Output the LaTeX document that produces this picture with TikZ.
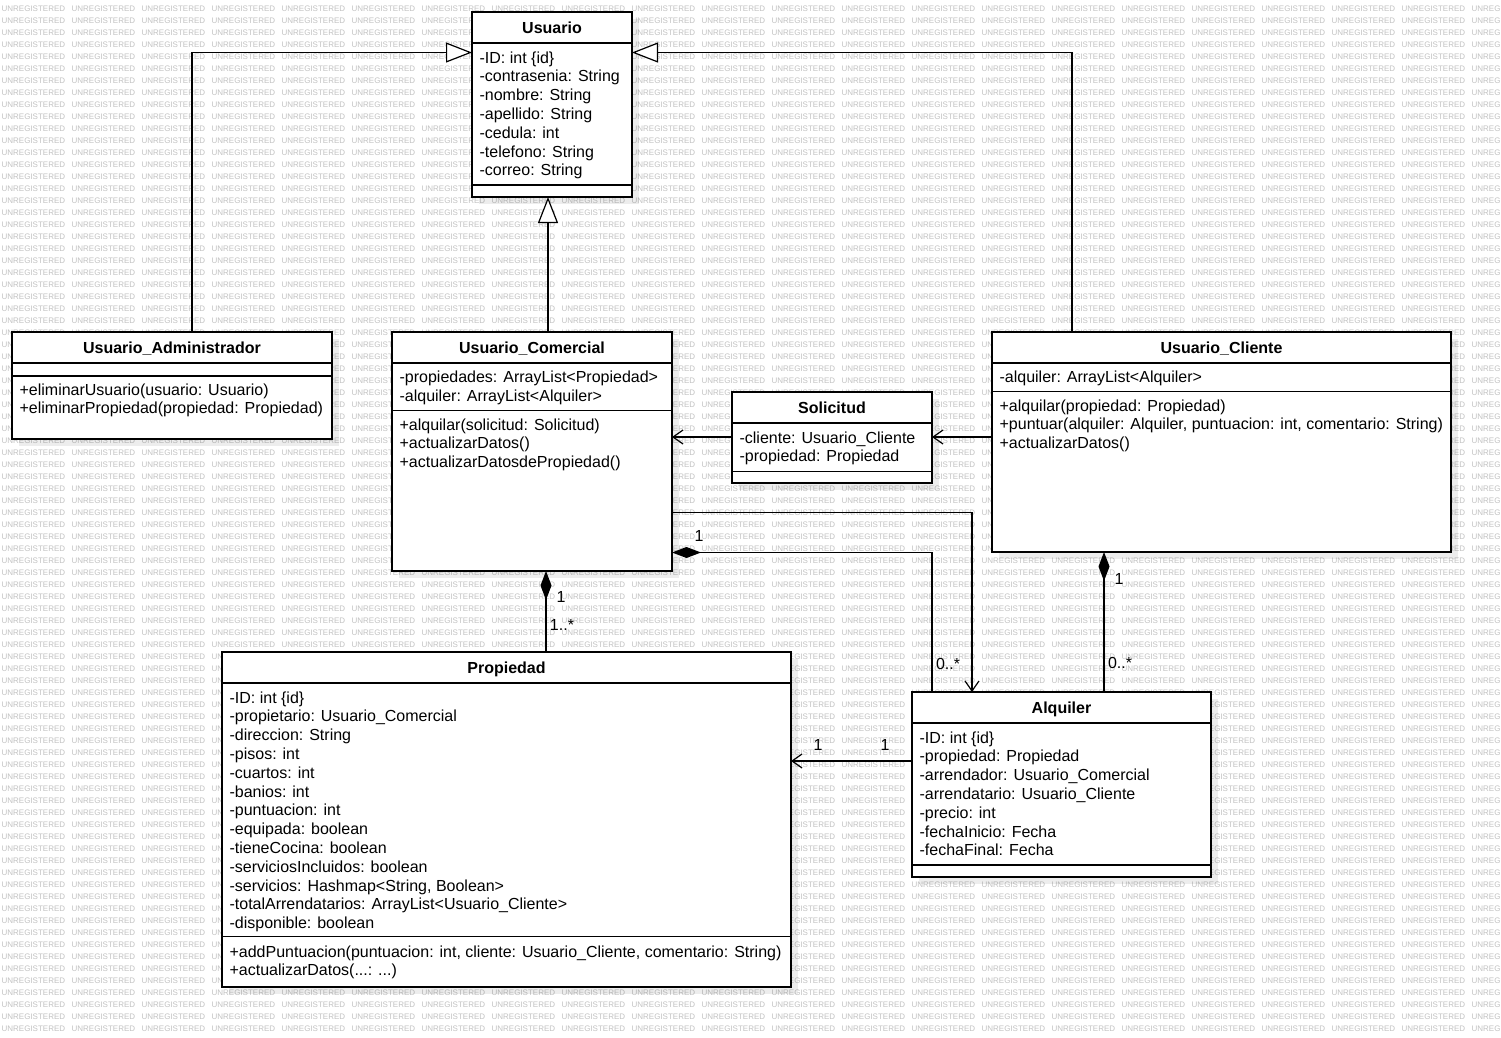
\documentclass[tikz,border=0pt]{standalone}
\usepackage{fontspec}
\setmainfont{Liberation Sans}
\usetikzlibrary{arrows.meta,shadows}

\begin{document}
\begin{tikzpicture}[x=1pt, y=-1pt, line width=1.2pt,
    classbox/.style={draw, fill=white, anchor=north west, inner sep=0pt, outer sep=0pt,
        drop shadow={shadow xshift=7pt, shadow yshift=-7pt, fill=black, opacity=.07}},
    classname/.style={anchor=base, inner sep=0pt, font=\fontsize{16}{18.8}\selectfont\bfseries},
    member/.style={anchor=base west, inner sep=0pt, font=\fontsize{16}{18.8}\selectfont},
    mult/.style={inner sep=0pt, font=\fontsize{16}{18.8}\selectfont},
    watermark/.style={anchor=base west, inner sep=0pt, text=black!24, font=\fontsize{8}{8}\selectfont},
    inherit/.style={-{Triangle[length=26pt,width=20pt,fill=white]}},
    assoc/.style={-{Straight Barb[length=10pt,width=14pt]}},
    compose/.style={-{Diamond[length=29pt,width=11pt]}}]
    \fill[white] (0,0) rectangle (1501,1037);
    \useasboundingbox (0,0) rectangle (1501,1037);
    \begin{scope}
        \clip (0,0) rectangle (1501,1037);
        \foreach \row in {0,...,85}
            \foreach \col in {0,...,21}
                \node[watermark] (wm-\row-\col) at (70*\col+1, 11.6+12*\row) {UNREGISTERED};
    \end{scope}

    \node[classbox, minimum width=160pt, minimum height=185pt] (usuario) at (472,12) {};
    \node[classname] (usuario-name) at (552,33.5) {Usuario};
    \draw (usuario.west |- 0,43) -- (usuario.east |- 0,43);
    \draw[line width=2pt] (usuario.west |- 0,184.5) -- (usuario.east |- 0,184.5);
    \foreach \t [count=\i from 0] in {-ID: int \{id\}, -contrasenia: String, -nombre: String,
            -apellido: String, -cedula: int, -telefono: String, -correo: String}
        \node[member] (usuario-a\i) at (479, 63+18.8*\i) {\t};

    \node[classbox, minimum width=320pt, minimum height=107pt] (admin) at (12,332) {};
    \node[classname] (admin-name) at (172,353.5) {Usuario\_Administrador};
    \draw (admin.west |- 0,363) -- (admin.east |- 0,363);
    \draw (admin.west |- 0,376) -- (admin.east |- 0,376);
    \foreach \t [count=\i from 0] in {+eliminarUsuario(usuario: Usuario), +eliminarPropiedad(propiedad: Propiedad)}
        \node[member] (admin-o\i) at (19, 395+18.8*\i) {\t};

    \node[classbox, minimum width=280pt, minimum height=239pt] (comercial) at (392,332) {};
    \node[classname] (comercial-name) at (532,353.5) {Usuario\_Comercial};
    \draw (comercial.west |- 0,363) -- (comercial.east |- 0,363);
    \draw (comercial.west |- 0,410.5) -- (comercial.east |- 0,410.5);
    \foreach \t [count=\i from 0] in {-propiedades: ArrayList<Propiedad>, -alquiler: ArrayList<Alquiler>}
        \node[member] (comercial-a\i) at (399, 382.5+18.8*\i) {\t};
    \foreach \t [count=\i from 0] in {+alquilar(solicitud: Solicitud), +actualizarDatos(), +actualizarDatosdePropiedad()}
        \node[member] (comercial-o\i) at (399, 430+18.8*\i) {\t};

    \node[classbox, minimum width=459pt, minimum height=220pt] (cliente) at (992,332) {};
    \node[classname] (cliente-name) at (1221.5,353.5) {Usuario\_Cliente};
    \draw (cliente.west |- 0,363) -- (cliente.east |- 0,363);
    \draw (cliente.west |- 0,391.5) -- (cliente.east |- 0,391.5);
    \node[member] (cliente-a0) at (999,382.5) {-alquiler: ArrayList<Alquiler>};
    \foreach \t [count=\i from 0] in {+alquilar(propiedad: Propiedad),
            {+puntuar(alquiler: Alquiler, puntuacion: int, comentario: String)}, +actualizarDatos()}
        \node[member] (cliente-o\i) at (999, 411+18.8*\i) {\t};

    \node[classbox, minimum width=200pt, minimum height=91pt] (solicitud) at (732,392) {};
    \node[classname] (solicitud-name) at (832,413.5) {Solicitud};
    \draw (solicitud.west |- 0,423) -- (solicitud.east |- 0,423);
    \draw (solicitud.west |- 0,471.5) -- (solicitud.east |- 0,471.5);
    \foreach \t [count=\i from 0] in {-cliente: Usuario\_Cliente, -propiedad: Propiedad}
        \node[member] (solicitud-a\i) at (739, 443+18.8*\i) {\t};

    \node[classbox, minimum width=569pt, minimum height=335pt] (propiedad) at (222,652) {};
    \node[classname] (propiedad-name) at (506.5,673.5) {Propiedad};
    \draw (propiedad.west |- 0,683) -- (propiedad.east |- 0,683);
    \draw (propiedad.west |- 0,936.5) -- (propiedad.east |- 0,936.5);
    \foreach \t [count=\i from 0] in {-ID: int \{id\}, -propietario: Usuario\_Comercial, -direccion: String,
            -pisos: int, -cuartos: int, -banios: int, -puntuacion: int, -equipada: boolean,
            -tieneCocina: boolean, -serviciosIncluidos: boolean, {-servicios: Hashmap<String, Boolean>},
            -totalArrendatarios: ArrayList<Usuario\_Cliente>, -disponible: boolean}
        \node[member] (propiedad-a\i) at (229, 703+18.8*\i) {\t};
    \node[member] (propiedad-o0) at (229,957) {+addPuntuacion(puntuacion: int, cliente: Usuario\_Cliente, comentario: String)};
    \node[member] (propiedad-o1) at (229,975.8) {+actualizarDatos(...: ...)};

    \node[classbox, minimum width=299pt, minimum height=185pt] (alquiler) at (912,692) {};
    \node[classname] (alquiler-name) at (1061.5,713.5) {Alquiler};
    \draw (alquiler.west |- 0,723) -- (alquiler.east |- 0,723);
    \draw[line width=2pt] (alquiler.west |- 0,864.5) -- (alquiler.east |- 0,864.5);
    \foreach \t [count=\i from 0] in {-ID: int \{id\}, -propiedad: Propiedad, -arrendador: Usuario\_Comercial,
            -arrendatario: Usuario\_Cliente, -precio: int, -fechaInicio: Fecha, -fechaFinal: Fecha}
        \node[member] (alquiler-a\i) at (919, 743+18.8*\i) {\t};

    \draw[inherit] (admin.north -| 192,0) |- (usuario.west |- 0,52.5);
    \draw[inherit] (cliente.north -| 1072,0) |- (usuario.east |- 0,52.5);
    \draw[inherit] (comercial.north -| 548,0) -- (usuario.south -| 548,0);
    \draw[assoc] (solicitud.west |- 0,437) -- (comercial.east |- 0,437);
    \draw[assoc] (cliente.west |- 0,437) -- (solicitud.east |- 0,437);
    \draw[assoc] (comercial.east |- 0,512.5) -| (alquiler.north -| 972,0);
    \draw[compose] (alquiler.north -| 932,0) |- (comercial.east |- 0,552.5);
    \draw[compose] (propiedad.north -| 546,0) -- (comercial.south -| 546,0);
    \draw[compose] (alquiler.north -| 1104,0) -- (cliente.south -| 1104,0);
    \draw[assoc] (alquiler.west |- 0,761) -- (propiedad.east |- 0,761);

    \node[mult] (m-comercial-alq) at (699,536) {1};
    \node[mult] (m-alq-comercial) at (948,664) {0..*};
    \node[mult] (m-comercial-prop) at (561,597) {1};
    \node[mult] (m-prop-comercial) at (562,625) {1..*};
    \node[mult] (m-cliente-alq) at (1119,579) {1};
    \node[mult] (m-alq-cliente) at (1120,663) {0..*};
    \node[mult] (m-prop-alq) at (818,745) {1};
    \node[mult] (m-alq-prop) at (885,745) {1};
\end{tikzpicture}
\end{document}
